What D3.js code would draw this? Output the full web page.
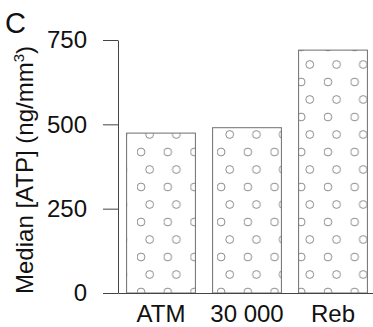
<!DOCTYPE html>
<html>
<head>
<meta charset="utf-8">
<script src="https://cdn.jsdelivr.net/npm/d3@7"></script>
<style>
  html, body { margin: 0; padding: 0; background: #fff; }
  svg { display: block; }
</style>
</head>
<body>
<svg id="chart"></svg>
<script>
// data
const categories = ["ATM", "30 000", "Reb"];
const medianATP = [474, 490, 720];
const yTicks = [0, 250, 500, 750];

const width = 373, height = 327;
const margin = { top: 40, right: -3, bottom: 34, left: 118 };
const font = "Liberation Sans, Arial, sans-serif";

const svg = d3.select("svg#chart")
    .attr("width", width)
    .attr("height", height)
    .attr("viewBox", [0, 0, width, height]);

const x = d3.scaleBand()
    .domain(categories)
    .range([margin.left, width - margin.right])
    .paddingInner(0.2)
    .paddingOuter(0.1);

const y = d3.scaleLinear()
    .domain([0, 750])
    .range([height - margin.bottom, margin.top]);

// dotted fill: staggered open circles
const pat = svg.append("defs").append("pattern")
    .attr("id", "dots")
    .attr("patternUnits", "userSpaceOnUse")
    .attr("x", 137).attr("y", 144)
    .attr("width", 26.7).attr("height", 35);
pat.append("rect").attr("width", 26.7).attr("height", 35).attr("fill", "#fff");
[[4, 8], [12.6, 25.5]].forEach(([cx, cy]) => {
    pat.append("circle")
        .attr("cx", cx).attr("cy", cy).attr("r", 3.9)
        .attr("fill", "none")
        .attr("stroke", "#6e6e6e")
        .attr("stroke-width", 0.8);
});

// bars
svg.append("g").selectAll("rect")
    .data(categories.map((c, i) => ({ c, v: medianATP[i] })))
    .join("rect")
    .attr("x", d => x(d.c))
    .attr("width", x.bandwidth())
    .attr("y", d => y(d.v))
    .attr("height", d => y(0) - y(d.v))
    .attr("fill", "url(#dots)")
    .attr("stroke", "#6e6e6e")
    .attr("stroke-width", 1);

// y axis
svg.append("g")
    .attr("transform", `translate(${margin.left},0)`)
    .call(d3.axisLeft(y).tickValues(yTicks).tickSize(15).tickSizeOuter(0).tickPadding(16))
    .call(g => g.selectAll("path, line").attr("stroke", "#444"))
    .call(g => g.selectAll("text")
        .attr("font-family", font)
        .attr("font-size", 24)
        .attr("fill", "#111"));

// x axis
svg.append("g")
    .attr("transform", `translate(0,${y(0)})`)
    .call(d3.axisBottom(x).tickSize(0).tickSizeOuter(0).tickPadding(12))
    .call(g => g.select(".domain").attr("stroke", "#444"))
    .call(g => g.selectAll("text")
        .attr("font-family", font)
        .attr("font-size", 24)
        .attr("fill", "#111"));

// y label
const ylab = svg.append("text")
    .attr("transform", `translate(33,170) rotate(-90)`)
    .attr("text-anchor", "middle")
    .attr("font-family", font)
    .attr("font-size", 24)
    .attr("fill", "#111");
ylab.append("tspan").text("Median [ATP] (ng/mm");
ylab.append("tspan").attr("font-size", 15).attr("dy", -9).text("3");
ylab.append("tspan").attr("dy", 9).text(")");

// panel letter
svg.append("text")
    .attr("x", 5).attr("y", 33)
    .attr("font-family", font)
    .attr("font-size", 29)
    .attr("fill", "#111")
    .text("C");
</script>
</body>
</html>
